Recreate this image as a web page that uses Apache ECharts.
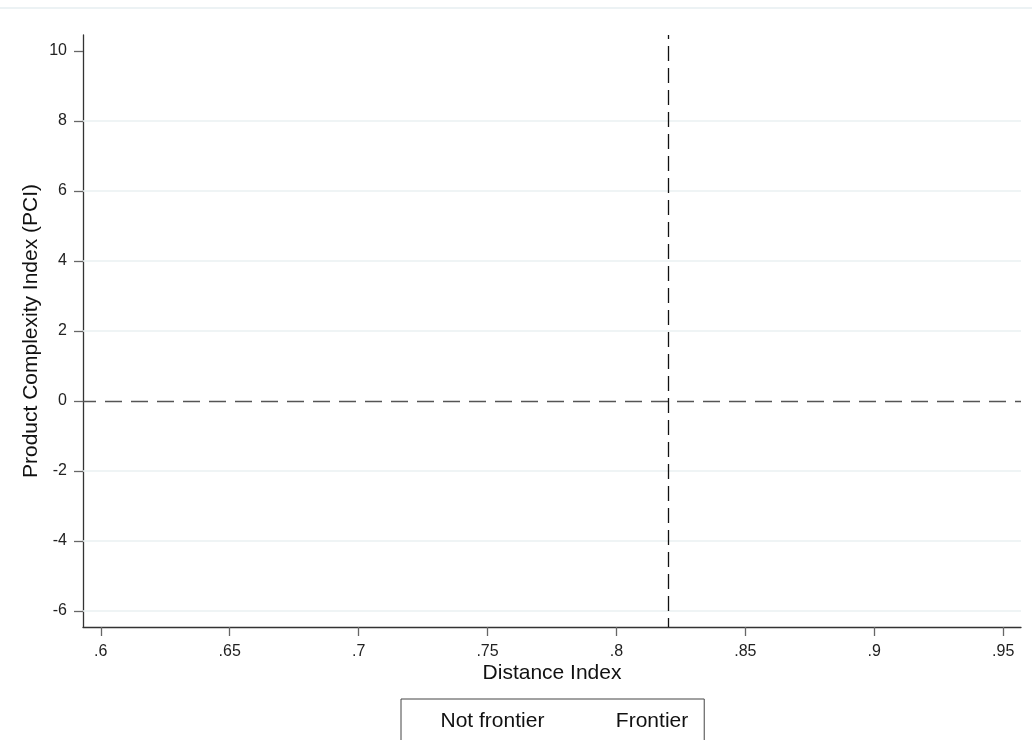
<!DOCTYPE html>
<html>
<head>
<meta charset="utf-8">
<title>PCI vs Distance Index</title>
<script src="https://cdn.jsdelivr.net/npm/echarts@6/dist/echarts.min.js"></script>
<style>
  html, body { margin: 0; padding: 0; background: #fff; }
  #chart { width: 1032px; height: 740px; }
</style>
</head>
<body>
<div id="chart"></div>
<script>
// Axis ticks
const xTicks = [0.6, 0.65, 0.7, 0.75, 0.8, 0.85, 0.9, 0.95];
const yTicks = [-6, -4, -2, 0, 2, 4, 6, 8, 10];
// Light horizontal grid rows (0 carries the dashed reference line instead)
const gridRows = [-6, -4, -2, 2, 4, 6, 8];
// Reference lines
const frontierCut = 0.82;
const pciZero = 0;
// Axis extents
const xRange = [0.5931, 0.9569];
const yRange = [-6.457, 10.457];
// Groups (no observations plotted)
const seriesNames = ['Not frontier', 'Frontier'];
const notFrontier = [];
const frontier = [];

const font = 'Arial, "Liberation Sans", Helvetica, sans-serif';
const stripZero = v => String(+v.toFixed(2)).replace(/^0\./, '.').replace(/^-0\./, '-.');

const chart = echarts.init(document.getElementById('chart'), null, { renderer: 'canvas' });

chart.setOption({
  animation: false,
  backgroundColor: '#ffffff',
  textStyle: { fontFamily: font },
  grid: { left: 83, right: 11, top: 35, bottom: 113, containLabel: false },
  graphic: [{
    type: 'line',
    shape: { x1: 0, y1: 8, x2: 1032, y2: 8 },
    style: { stroke: '#e6eef0', lineWidth: 1.5 },
    silent: true
  }],
  legend: {
    data: seriesNames,
    left: 401,
    top: 699,
    orient: 'horizontal',
    padding: [12, 16, 40, 15],
    itemGap: 47,
    itemWidth: 25,
    itemHeight: 14,
    itemStyle: { opacity: 0 },
    borderColor: '#444',
    borderWidth: 1,
    selectedMode: false,
    textStyle: { fontSize: 21, color: '#111', fontFamily: font, lineHeight: 20 }
  },
  xAxis: {
    type: 'value',
    min: xRange[0],
    max: xRange[1],
    name: 'Distance Index',
    nameLocation: 'middle',
    nameGap: 36,
    nameMoveOverlap: false,
    nameTextStyle: { fontSize: 21, color: '#111', fontFamily: font },
    axisLine: { show: true, onZero: false, lineStyle: { color: '#333', width: 1.3 } },
    axisTick: { show: true, length: 9, customValues: xTicks, lineStyle: { color: '#666', width: 1.3 } },
    axisLabel: { customValues: xTicks, margin: 17, fontSize: 16, color: '#222', fontFamily: font, formatter: stripZero },
    splitLine: { show: false }
  },
  yAxis: {
    type: 'value',
    min: yRange[0],
    max: yRange[1],
    name: 'Product Complexity Index (PCI)',
    nameLocation: 'middle',
    nameGap: 41,
    nameMoveOverlap: false,
    nameRotate: 90,
    nameTextStyle: { fontSize: 21, color: '#111', fontFamily: font },
    axisLine: { show: true, onZero: false, lineStyle: { color: '#333', width: 1.3 } },
    axisTick: { show: true, length: 9, customValues: yTicks, lineStyle: { color: '#666', width: 1.3 } },
    axisLabel: { customValues: yTicks, margin: 16, fontSize: 16, color: '#222', fontFamily: font },
    splitLine: { show: false }
  },
  series: [
    {
      name: seriesNames[0],
      type: 'scatter',
      data: notFrontier,
      itemStyle: { color: '#1a476f' },
      markLine: {
        silent: true,
        symbol: 'none',
        label: { show: false },
        lineStyle: { color: '#eaf0f2', width: 1.5, type: 'solid' },
        data: gridRows.map(v => ({ yAxis: v }))
      }
    },
    {
      name: seriesNames[1],
      type: 'scatter',
      data: frontier,
      itemStyle: { color: '#90353b' },
      markLine: {
        silent: true,
        symbol: 'none',
        label: { show: false },
        data: [
          { yAxis: pciZero, lineStyle: { color: '#555', width: 1.3, type: [17, 9], dashOffset: 4 } },
          { xAxis: frontierCut, lineStyle: { color: '#111', width: 1.3, type: [15, 7], dashOffset: 6 } }
        ]
      }
    }
  ]
});
</script>
</body>
</html>
